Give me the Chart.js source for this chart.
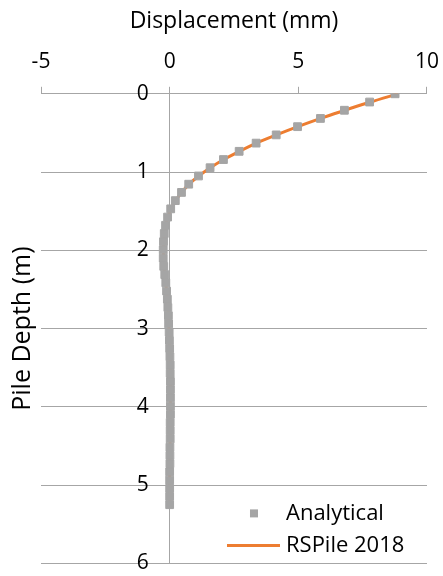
<!DOCTYPE html>
<html>
<head>
<meta charset="utf-8">
<script src="https://cdn.jsdelivr.net/npm/chart.js@4.4.0/dist/chart.umd.min.js"></script>
<style>
  html, body { margin: 0; padding: 0; background: #fff; }
  #wrap { width: 443px; height: 576px; }
</style>
</head>
<body>
<div id="wrap"><canvas id="pileChart"></canvas></div>
<script>
// Eixos
const xTicks = [-5, 0, 5, 10];
const depthTicks = [0, 1, 2, 3, 4, 5, 6];

// Profundidade da estaca (m)
const depth = [
  0.000, 0.105, 0.210, 0.315, 0.420, 0.525, 0.630, 0.735, 0.840, 0.945,
  1.050, 1.155, 1.260, 1.365, 1.470, 1.575, 1.680, 1.785, 1.890, 1.995,
  2.100, 2.205, 2.310, 2.415, 2.520, 2.625, 2.730, 2.835, 2.940, 3.045,
  3.150, 3.255, 3.360, 3.465, 3.570, 3.675, 3.780, 3.885, 3.990, 4.095,
  4.200, 4.305, 4.410, 4.515, 4.620, 4.725, 4.830, 4.935, 5.040, 5.145,
  5.250
];

// Deslocamento (mm) - solução analítica
const analytical = [
  8.76, 7.77, 6.79, 5.86, 4.97, 4.14, 3.36, 2.70, 2.09, 1.57,
  1.12, 0.74, 0.46, 0.22, 0.04, -0.08, -0.16, -0.21, -0.24, -0.25,
  -0.25, -0.23, -0.19, -0.15, -0.12, -0.09, -0.07, -0.05, -0.04, -0.02,
  -0.01, 0.00, 0.01, 0.02, 0.02, 0.03, 0.03, 0.03, 0.03, 0.03,
  0.02, 0.02, 0.02, 0.01, 0.01, 0.01, 0.00, 0.00, 0.00, 0.00,
  0.00
];

// Deslocamento (mm) - RSPile 2018
const rspile = [
  8.88, 7.80, 6.80, 5.87, 4.98, 4.15, 3.37, 2.71, 2.10, 1.58,
  1.13, 0.75, 0.47, 0.23, 0.05, -0.07, -0.15, -0.20, -0.23, -0.24,
  -0.24, -0.22, -0.19, -0.15, -0.12, -0.09, -0.07, -0.05, -0.04, -0.02,
  -0.01, 0.00, 0.01, 0.02, 0.02, 0.03, 0.03, 0.03, 0.03, 0.03,
  0.02, 0.02, 0.02, 0.01, 0.01, 0.01, 0.00, 0.00, 0.00, 0.00,
  0.00
];

const seriesNames = ['Analytical', 'RSPile 2018'];

const GRAY = '#a5a5a5';
const ORANGE = '#ed7d31';
const GRID = '#a6a6a6';
const FONT = "'Open Sans', sans-serif";

Chart.defaults.font.family = FONT;
Chart.defaults.font.size = 21;
Chart.defaults.color = '#000';

// Legenda desenhada dentro da área do gráfico
const legendInPlot = {
  id: 'legendInPlot',
  afterDraw(chart) {
    const ctx = chart.ctx;
    const area = chart.chartArea;
    const textX = area.right - 141;
    const y1 = area.bottom - 50;
    const y2 = area.bottom - 18;
    ctx.save();
    ctx.fillStyle = GRAY;
    ctx.fillRect(area.right - 177, y1 - 4, 8, 8);
    ctx.strokeStyle = ORANGE;
    ctx.lineWidth = 3;
    ctx.beginPath();
    ctx.moveTo(area.right - 200, y2);
    ctx.lineTo(area.right - 147, y2);
    ctx.stroke();
    ctx.fillStyle = '#000';
    ctx.font = '22px ' + FONT;
    ctx.textBaseline = 'middle';
    ctx.textAlign = 'left';
    ctx.fillText(seriesNames[0], textX, y1);
    ctx.fillText(seriesNames[1], textX, y2);
    ctx.restore();
  }
};

const ctx = document.getElementById('pileChart').getContext('2d');
new Chart(ctx, {
  type: 'scatter',
  data: {
    datasets: [{
      label: seriesNames[0],
      data: depth.map((d, i) => ({ x: analytical[i], y: d })),
      pointStyle: 'rect',
      pointRadius: 5.5,
      pointBackgroundColor: GRAY,
      pointBorderColor: GRAY,
      pointBorderWidth: 1,
      showLine: false
    }, {
      label: seriesNames[1],
      data: depth.map((d, i) => ({ x: rspile[i], y: d })),
      showLine: true,
      borderColor: ORANGE,
      borderWidth: 3,
      pointRadius: 0,
      tension: 0.3
    }]
  },
  options: {
    animation: false,
    responsive: true,
    maintainAspectRatio: false,
    layout: { padding: { top: 3, left: 0, right: 3, bottom: 0 } },
    plugins: {
      legend: { display: false },
      tooltip: { enabled: false }
    },
    scales: {
      x: {
        type: 'linear',
        position: 'top',
        min: xTicks[0],
        max: xTicks[xTicks.length - 1],
        ticks: { stepSize: xTicks[1] - xTicks[0], padding: 4 },
        // marca de 7px junto ao eixo, o resto do comprimento fica em branco
        grid: {
          drawOnChartArea: false, drawTicks: true, tickLength: 15,
          color: GRID, tickBorderDash: [0, 8, 7, 100]
        },
        border: { display: true, color: GRID },
        title: {
          display: true, text: 'Displacement (mm)',
          font: { size: 23 }, padding: { top: 5, bottom: 10 }
        }
      },
      y: {
        type: 'linear',
        position: { x: 0 },
        reverse: true,
        min: depthTicks[0],
        max: depthTicks[depthTicks.length - 1],
        ticks: {
          stepSize: 1, padding: 0,
          callback: (v) => v + '\u2002\u2002'
        },
        grid: { color: GRID, drawTicks: false },
        border: { display: true, color: GRID }
      },
      yTitle: {
        type: 'linear',
        axis: 'y',
        position: 'left',
        ticks: { display: false },
        grid: { display: false, drawTicks: false },
        border: { display: false },
        title: {
          display: true, text: 'Pile Depth (m)',
          font: { size: 25 }, padding: { top: 8, bottom: 3 }
        }
      }
    }
  },
  plugins: [legendInPlot]
});
</script>
</body>
</html>
